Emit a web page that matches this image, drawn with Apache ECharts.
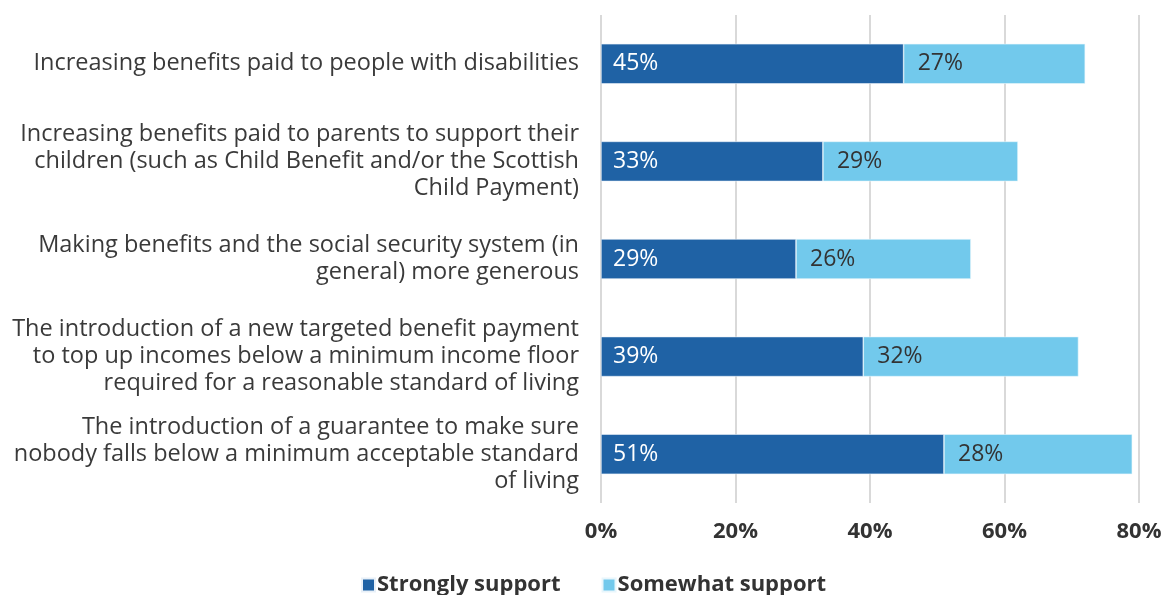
<!DOCTYPE html>
<html><head><meta charset="utf-8">
<script src="https://cdn.jsdelivr.net/npm/echarts@6/dist/echarts.min.js"></script>
<style>html,body{margin:0;padding:0;background:#fff}#c{width:1166px;height:595px}</style>
</head><body><div id="c"></div>
<script>
const categories = [
  "Increasing benefits paid to people with disabilities",
  "Increasing benefits paid to parents to support their\nchildren (such as Child Benefit and/or the Scottish\nChild Payment)",
  "Making benefits and the social security system (in\ngeneral) more generous",
  "The introduction of a new targeted benefit payment\nto top up incomes below a minimum income floor\nrequired for a reasonable standard of living",
  "The introduction of a guarantee to make sure\nnobody falls below a minimum acceptable standard\nof living"
];
const strongly = [45, 33, 29, 39, 51];
const somewhat = [27, 29, 26, 32, 28];
const seriesNames = ["Strongly support", "Somewhat support"];
const xTicks = [0, 20, 40, 60, 80];

const FONT = "'Open Sans', 'Noto Sans', sans-serif";
const chart = echarts.init(document.getElementById('c'), null, {renderer: 'canvas'});
chart.setOption({
  animation: false,
  textStyle: {fontFamily: FONT},
  grid: {left: 601, right: 27, top: 15, height: 488, containLabel: false},
  xAxis: {
    type: 'value', min: xTicks[0], max: xTicks[xTicks.length - 1], interval: 20,
    axisLine: {show: false}, axisTick: {show: false},
    splitLine: {show: true, lineStyle: {color: '#d9d9d9', width: 2}},
    axisLabel: {formatter: v => v + '%', color: '#333', fontSize: 22, fontWeight: 'bold', margin: 18, fontFamily: FONT}
  },
  yAxis: {
    type: 'category', data: categories, inverse: true,
    axisLine: {show: false}, axisTick: {show: false},
    axisLabel: {color: '#3a3a3a', fontSize: 23.5, lineHeight: 27, margin: 22, align: 'right', fontFamily: FONT}
  },
  legend: {
    bottom: -6, left: 356, itemWidth: 13, itemHeight: 13, itemGap: 41,
    icon: 'rect',
    textStyle: {color: '#333', fontSize: 22, fontWeight: 'bold', fontFamily: FONT, padding: [0,0,0,-3]},
    data: seriesNames
  },
  series: [
    {
      name: seriesNames[0], type: 'bar', stack: 's', data: strongly, barWidth: 40,
      itemStyle: {color: '#1f62a5', borderColor: '#e8f0f8', borderWidth: 0.6},
      label: {show: true, position: 'insideLeft', distance: 12, color: '#fff', fontSize: 23, formatter: '{c}%', fontFamily: FONT}
    },
    {
      name: seriesNames[1], type: 'bar', stack: 's', data: somewhat, barWidth: 40,
      itemStyle: {color: '#72c9ec', borderColor: '#e8f6fc', borderWidth: 0.6},
      label: {show: true, position: 'insideLeft', distance: 14, color: '#333', fontSize: 23, formatter: '{c}%', fontFamily: FONT}
    }
  ]
});
</script></body></html>
